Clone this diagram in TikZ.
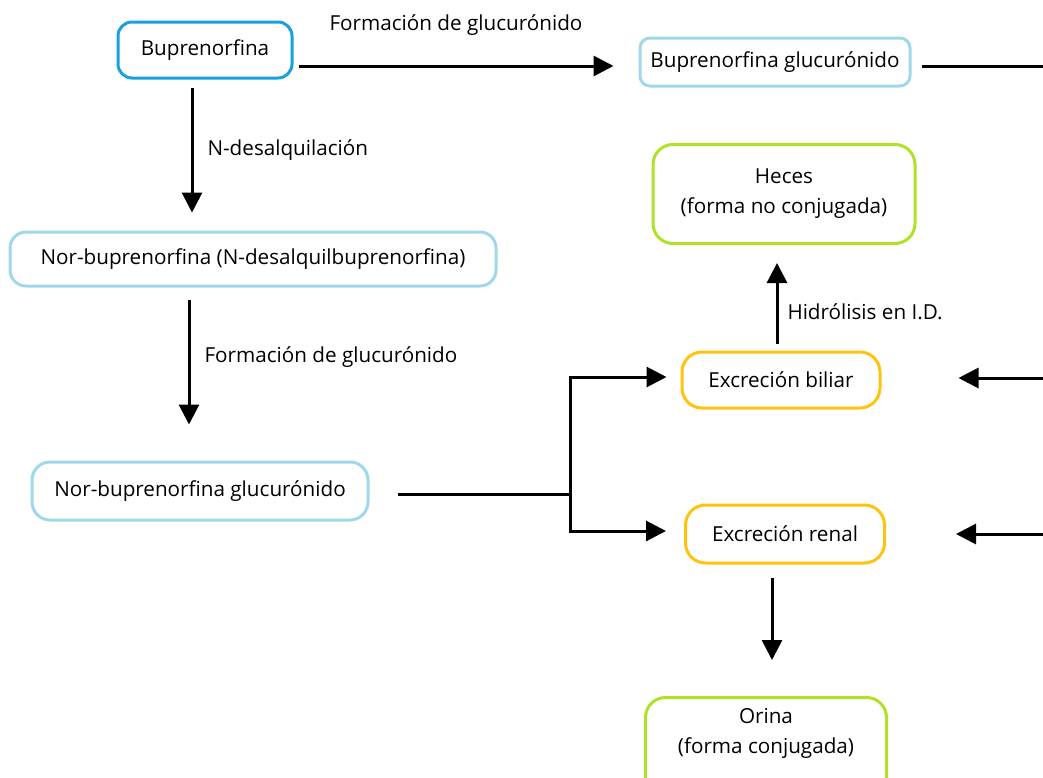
\documentclass[tikz,border=0pt]{standalone}
\usepackage{fontspec}
\setmainfont{Open Sans}
\usetikzlibrary{arrows.meta,calc}

\definecolor{bupBlue}{RGB}{25,160,225}
\definecolor{paleBlue}{RGB}{160,215,235}
\definecolor{limeGreen}{RGB}{175,225,40}
\definecolor{amber}{RGB}{255,195,15}
\def\px{0.75pt}

\begin{document}
\begin{tikzpicture}
[x=0.75pt,y=-0.75pt,
  boxDecorate/.style={draw,line width=3*\px,align=center,inner sep=0pt,
    font=\fontsize{15.5}{22.5}\selectfont},
  arrowDecorate/.style={-{Triangle[length=20*\px,width=20*\px]},line width=3*\px},
  lineDecorate/.style={-,line width=3*\px},
  labelDecorate/.style={font=\fontsize{15.5}{18}\selectfont,inner sep=0pt}]
\clip (0,0) rectangle (1043,778);
%% boxes
\foreach \nodename/\x/\y/\w/\h/\r/\col/\txt in {
  bup/205/50/174/56/14/bupBlue/Buprenorfina,
  bupgluc/775/62/270/48/10/paleBlue/Buprenorfina glucurónido,
  nor/253/259/486/54/16/paleBlue/Nor-buprenorfina (N-desalquilbuprenorfina),
  norgluc/200/491/336/58/18/paleBlue/Nor-buprenorfina glucurónido,
  heces/784/194/262/99/20/limeGreen/Heces\\(forma no conjugada),
  biliar/781/380/198/56/20/amber/Excreción biliar,
  renal/785/534/199/58/20/amber/Excreción renal}
{
  \node (\nodename) at (\x,\y) [boxDecorate,draw=\col,minimum width=\w*\px,
    minimum height=\h*\px,rounded corners=\r*\px] {\txt};
}
\node (orina) at (766,696) [boxDecorate,draw=limeGreen,anchor=north,
  minimum width=241*\px,rounded corners=20*\px,text height=56*\px,
  text depth=60*\px] {Orina\\(forma conjugada)};
%% free ends at the right border
\coordinate (edgeTop) at (1050,66);
\coordinate (edgeBil) at (1050,378);
\coordinate (edgeRen) at (1050,534);
\coordinate (split) at (570,494);
%% connectors
\draw[arrowDecorate] ($(bup.east)+(5,16)$) -- ($(bupgluc.west)+(-25,4)$)
  node[midway,above=29*\px,labelDecorate] (lblGlucA) {Formación de glucurónido};
\draw[arrowDecorate] ($(bup.south)+(-13,8)$) -- ($(nor.north)+(-61,-18)$)
  node[midway,right=14*\px,labelDecorate] (lblDesalq) {N-desalquilación};
\draw[arrowDecorate] ($(nor.south)+(-64,12)$) -- ($(norgluc.north)+(-11,-36)$)
  node[pos=0.46,right=14*\px,labelDecorate] (lblGlucB) {Formación de glucurónido};
\draw[lineDecorate] ($(norgluc.east)+(28,3)$) -- (split);
\draw[arrowDecorate] (split) |- ($(biliar.west)+(-14,-3)$);
\draw[arrowDecorate] (split) |- ($(renal.west)+(-18,-3)$);
\draw[arrowDecorate] ($(biliar.north)+(-4,-7)$) -- ($(heces.south)+(-7,18)$)
  node[pos=0.39,right=9*\px,labelDecorate] (lblHidro) {Hidrólisis en I.D.};
\draw[arrowDecorate] ($(renal.south)+(-13,13)$) -- ($(orina.north)+(6,-36)$);
\draw[lineDecorate] ($(bupgluc.east)+(10,4)$) -- (edgeTop);
\draw[arrowDecorate] (edgeBil) -- ($(biliar.east)+(77,-2)$);
\draw[arrowDecorate] (edgeRen) -- ($(renal.east)+(70,0)$);
\end{tikzpicture}
\end{document}
